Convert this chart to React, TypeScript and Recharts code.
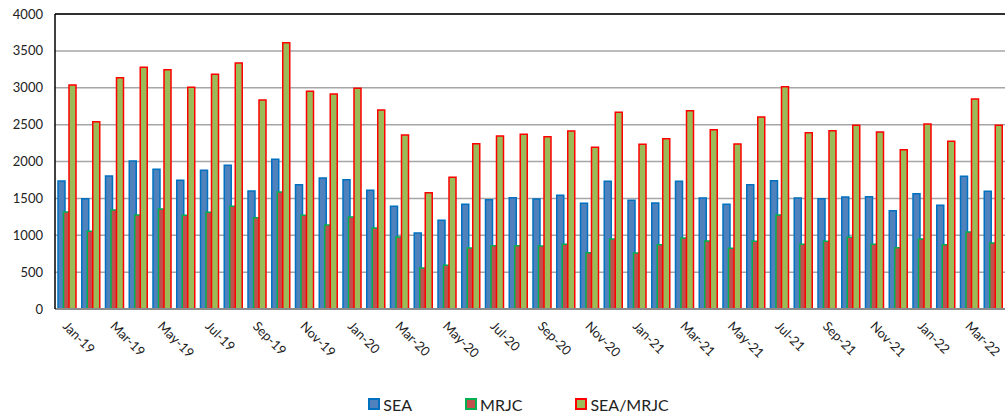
import React from "react";
import {
  BarChart,
  Bar,
  XAxis,
  YAxis,
  CartesianGrid,
  Legend,
  ReferenceLine,
} from "recharts";

const months = [
  "Jan-19", "Feb-19", "Mar-19", "Apr-19", "May-19", "Jun-19",
  "Jul-19", "Aug-19", "Sep-19", "Oct-19", "Nov-19", "Dec-19",
  "Jan-20", "Feb-20", "Mar-20", "Apr-20", "May-20", "Jun-20",
  "Jul-20", "Aug-20", "Sep-20", "Oct-20", "Nov-20", "Dec-20",
  "Jan-21", "Feb-21", "Mar-21", "Apr-21", "May-21", "Jun-21",
  "Jul-21", "Aug-21", "Sep-21", "Oct-21", "Nov-21", "Dec-21",
  "Jan-22", "Feb-22", "Mar-22", "Apr-22",
];

const sea = [
  1736, 1496, 1803, 2007, 1894, 1745, 1880, 1948, 1600, 2029, 1686, 1776,
  1754, 1609, 1392, 1031, 1202, 1419, 1483, 1510, 1492, 1541, 1433, 1731,
  1474, 1437, 1731, 1505, 1419, 1686, 1740, 1505, 1496, 1519, 1523, 1333,
  1564, 1406, 1799, 1596,
];

const mrjc = [
  1315, 1053, 1342, 1275, 1356, 1270, 1311, 1392, 1238, 1587, 1270, 1139,
  1248, 1098, 975, 556, 592, 827, 859, 859, 854, 877, 764, 949,
  759, 872, 963, 922, 823, 918, 1275, 877, 918, 972, 877, 832,
  949, 872, 1044, 895,
];

const seaMrjc = [
  3037, 2540, 3137, 3277, 3245, 3006, 3182, 3336, 2834, 3611, 2952, 2915,
  2992, 2698, 2359, 1577, 1785, 2242, 2346, 2368, 2337, 2414, 2192, 2667,
  2233, 2310, 2689, 2432, 2237, 2604, 3015, 2391, 2418, 2491, 2400, 2161,
  2509, 2274, 2848, 2491,
];

const yTicks = [0, 500, 1000, 1500, 2000, 2500, 3000, 3500, 4000];

const data = months.map((month, i) => ({
  month,
  SEA: sea[i],
  MRJC: mrjc[i],
  "SEA/MRJC": seaMrjc[i],
}));

const series = [
  { key: "SEA", fill: "#4f81bd", stroke: "#0070c0" },
  { key: "MRJC", fill: "#c0504d", stroke: "#00b050" },
  { key: "SEA/MRJC", fill: "#9bbb59", stroke: "#ff0000" },
];

const FONT = "Lato, 'Noto Sans', sans-serif";

const MonthTick = (props: any) => {
  const { x, y, payload } = props;
  return (
    <g transform={`translate(${x - 5},${y + 18}) rotate(45)`}>
      <text x={0} y={0} textAnchor="start" fontSize={13} fill="#222" fontFamily={FONT}>
        {payload.value}
      </text>
    </g>
  );
};

const LegendBox = () => (
  <div
    style={{
      display: "flex",
      justifyContent: "center",
      alignItems: "center",
      gap: 53,
      height: 20,
      paddingLeft: 32,
      fontFamily: FONT,
      fontSize: 16,
      color: "#222",
    }}
  >
    {series.map((s) => (
      <div key={s.key} style={{ display: "flex", alignItems: "center", gap: 3 }}>
        <span
          style={{
            display: "inline-block",
            width: 8,
            height: 8,
            background: s.fill,
            border: `2px solid ${s.stroke}`,
          }}
        />
        <span>{s.key}</span>
      </div>
    ))}
  </div>
);

const App = () => {
  return (
    <div style={{ position: "absolute", left: 0, top: 0 }}>
      <BarChart
        width={1005}
        height={416}
        data={data}
        margin={{ top: 14, right: 0, left: 0, bottom: 2 }}
        barGap={-1.5}
        barSize={7}
      >
        <CartesianGrid vertical={false} stroke="#a6a6a6" strokeWidth={1.5} />
        <XAxis
          dataKey="month"
          interval={1}
          height={85}
          tickLine={false}
          tickSize={0}
          tickMargin={0}
          tick={<MonthTick />}
          axisLine={{ stroke: "#8c8c8c", strokeWidth: 2 }}
        />
        <YAxis
          width={55}
          domain={[0, 4000]}
          ticks={yTicks}
          interval={0}
          tickLine={false}
          tickSize={0}
          tickMargin={12}
          axisLine={{ stroke: "#000", strokeWidth: 1.5 }}
          tick={{ fontSize: 13, fill: "#222", fontFamily: FONT }}
        />
        <ReferenceLine y={4000} stroke="#000" strokeWidth={1.5} />
        {series.map((s) => (
          <Bar
            key={s.key}
            dataKey={s.key}
            fill={s.fill}
            stroke={s.stroke}
            strokeWidth={1.5}
            isAnimationActive={false}
          />
        ))}
        <Legend verticalAlign="bottom" content={<LegendBox />} />
      </BarChart>
    </div>
  );
};

export default App;
